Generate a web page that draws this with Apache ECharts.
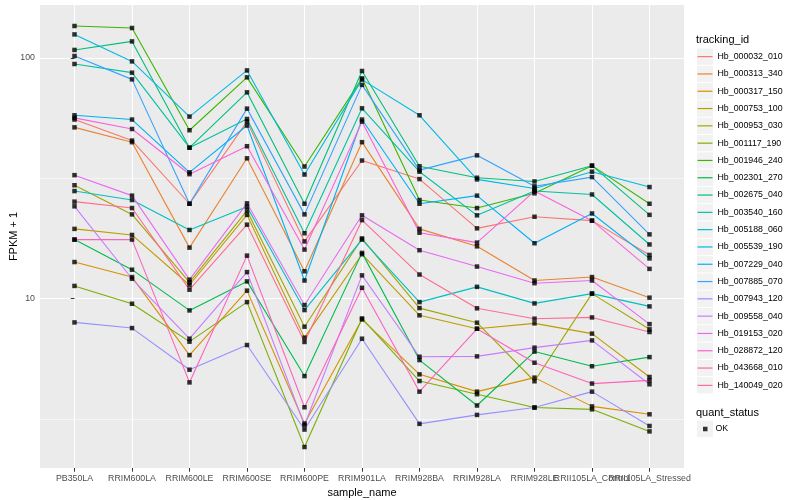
<!DOCTYPE html>
<html>
<head>
<meta charset="utf-8">
<script src="https://cdn.jsdelivr.net/npm/echarts@6/dist/echarts.min.js"></script>
<style>html,body{margin:0;padding:0;background:#fff}#c{width:800px;height:500px}</style>
</head>
<body>
<div id="c"></div>
<script>
// ---- data ----
const categories = ['PB350LA','RRIM600LA','RRIM600LE','RRIM600SE','RRIM600PE','RRIM901LA','RRIM928BA','RRIM928LA','RRIM928LE','RRII105LA_Control','RRII105LA_Stressed'];
const trackingIds = ['Hb_000032_010','Hb_000313_340','Hb_000317_150','Hb_000753_100','Hb_000953_030','Hb_001117_190','Hb_001946_240','Hb_002301_270','Hb_002675_040','Hb_003540_160','Hb_005188_060','Hb_005539_190','Hb_007229_040','Hb_007885_070','Hb_007943_120','Hb_009558_040','Hb_019153_020','Hb_028872_120','Hb_043668_010','Hb_140049_020'];
const hb_000032_010 = [55.5, 45.4, 24.8, 54.4, 17.3, 37.5, 31.4, 19.6, 21.9, 21.1, 15.2];
const hb_000313_340 = [51.5, 44.7, 16.3, 38.3, 13.0, 44.7, 19.5, 16.5, 11.9, 12.3, 10.1];
const hb_000317_150 = [14.2, 12.3, 5.83, 10.8, 3.03, 8.20, 4.85, 4.11, 4.70, 3.57, 3.31];
const hb_000753_100 = [19.5, 18.4, 11.4, 22.3, 6.89, 15.3, 8.53, 7.50, 7.90, 7.16, 4.73];
const hb_000953_030 = [29.6, 22.4, 11.7, 23.2, 7.65, 17.8, 9.14, 7.95, 4.54, 10.5, 7.46];
const hb_001117_190 = [11.3, 9.53, 6.63, 9.68, 2.42, 8.28, 4.55, 4.01, 3.53, 3.47, 2.81];
const hb_001946_240 = [135.8, 133.2, 50.1, 83.1, 35.4, 82.3, 25.7, 23.8, 27.4, 35.7, 24.8];
const hb_002301_270 = [17.6, 13.2, 8.94, 11.8, 4.77, 15.5, 5.56, 3.60, 6.03, 5.24, 5.72];
const hb_002675_040 = [108.0, 117.2, 42.4, 72.0, 24.8, 88.3, 35.5, 31.8, 30.7, 35.7, 22.3];
const hb_003540_160 = [94.4, 86.9, 42.4, 55.8, 18.7, 61.8, 33.7, 22.2, 28.0, 27.1, 16.8];
const hb_005188_060 = [28.0, 25.7, 19.3, 24.1, 8.97, 17.6, 9.68, 11.2, 9.56, 10.5, 9.29];
const hb_005539_190 = [125.3, 96.8, 57.1, 88.8, 32.8, 81.3, 57.8, 31.3, 28.7, 33.7, 29.1];
const hb_007229_040 = [57.8, 55.5, 33.5, 52.4, 11.9, 55.5, 24.8, 26.8, 17.0, 22.6, 14.7];
const hb_007885_070 = [101.9, 81.5, 24.8, 61.6, 22.4, 77.3, 34.2, 39.4, 29.3, 32.0, 18.5];
const hb_007943_120 = [7.97, 7.55, 5.07, 6.42, 2.86, 6.82, 3.02, 3.29, 3.53, 4.11, 2.96];
const hb_009558_040 = [24.2, 12.1, 6.82, 12.9, 2.98, 12.5, 5.74, 5.76, 6.26, 6.71, 4.41];
const hb_019153_020 = [32.6, 26.8, 12.0, 24.9, 9.41, 22.2, 15.9, 13.6, 11.6, 11.9, 7.84];
const hb_028872_120 = [56.4, 50.7, 32.9, 43.0, 16.0, 54.4, 18.8, 17.1, 28.0, 21.1, 13.3];
const hb_043668_010 = [17.6, 17.6, 4.49, 15.1, 3.54, 11.1, 4.11, 7.50, 5.42, 4.44, 4.58];
const hb_140049_020 = [25.3, 23.8, 10.9, 20.3, 6.61, 21.2, 12.6, 9.12, 8.26, 8.36, 7.27];
const seriesValues = [hb_000032_010, hb_000313_340, hb_000317_150, hb_000753_100, hb_000953_030, hb_001117_190, hb_001946_240, hb_002301_270, hb_002675_040, hb_003540_160, hb_005188_060, hb_005539_190, hb_007229_040, hb_007885_070, hb_007943_120, hb_009558_040, hb_019153_020, hb_028872_120, hb_043668_010, hb_140049_020];
const yTickValues = [10, 100];
const yMinorValues = [3.1623, 31.623];
const quantStatus = ['OK'];

// ---- style ----
const palette = ['#F8766D','#EA8331','#D89000','#C09B00','#A3A500','#7CAE00','#39B600','#00BB4E','#00BF7D','#00C1A3','#00BFC4','#00BAE0','#00B0F6','#35A2FF','#9590FF','#C77CFF','#E76BF3','#FA62DB','#FF62BC','#FF6C91'];
const FONT = '"Liberation Sans", Arial, Helvetica, sans-serif';
const catIdx = categories.map((c, i) => i);
const evenIdx = catIdx.filter(i => i % 2 === 0);
const oddIdx = catIdx.filter(i => i % 2 === 1);

const chart = echarts.init(document.getElementById('c'), null, {renderer: 'canvas'});

const lineSeries = trackingIds.map((name, i) => ({
  name: name,
  type: 'line',
  data: seriesValues[i].map((v, j) => [j, v]),
  showSymbol: false,
  symbol: 'none',
  lineStyle: {width: 1.1, color: palette[i]},
  itemStyle: {color: palette[i]},
  z: 3,
  emphasis: {disabled: true}
}));

const okPoints = [];
seriesValues.forEach(arr => arr.forEach((v, j) => okPoints.push([j, v])));

const LEG_TOP = 48;
const LEG_STEP = 17.3;
const keyBoxes = trackingIds.map((n, i) => ({
  type: 'rect',
  shape: {x: 697, y: LEG_TOP + LEG_STEP * i + 0.5, width: 16, height: 16.3},
  style: {fill: '#F2F2F2'},
  silent: true
}));

const xLabelStyle = {color: '#4D4D4D', fontSize: 8.8, fontFamily: FONT, margin: 6, showMinLabel: true, showMaxLabel: true, hideOverlap: false, formatter: v => categories[Math.round(v)]};

const option = {
  animation: false,
  backgroundColor: '#ffffff',
  textStyle: {fontFamily: FONT},
  grid: {left: 40, right: 116, top: 5, bottom: 32, show: true, backgroundColor: '#EBEBEB', borderWidth: 0, containLabel: false, outerBoundsMode: 'none'},
  xAxis: [{
    type: 'value', min: -0.6, max: 10.6, position: 'bottom',
    axisLine: {show: false},
    axisTick: {show: true, length: 3.7, lineStyle: {color: '#333333', width: 1}, customValues: catIdx},
    axisLabel: Object.assign({customValues: evenIdx}, xLabelStyle),
    splitLine: {show: true, lineStyle: {color: '#ffffff', width: 1.1}},
    name: 'sample_name', nameLocation: 'middle', nameGap: 14,
    nameTextStyle: {color: '#000', fontSize: 11, fontFamily: FONT}
  }, {
    type: 'value', min: -0.6, max: 10.6, position: 'bottom', offset: 0,
    axisLine: {show: false},
    axisTick: {show: false, customValues: oddIdx},
    axisLabel: Object.assign({customValues: oddIdx}, xLabelStyle),
    splitLine: {show: false}
  }],
  yAxis: [{
    type: 'log', logBase: 10, min: 1.98, max: 166, position: 'left',
    axisLine: {show: false},
    axisTick: {show: true, length: 3.7, lineStyle: {color: '#333333', width: 1}, customValues: yTickValues},
    axisLabel: {customValues: yTickValues, color: '#4D4D4D', fontSize: 8.8, fontFamily: FONT, margin: 5},
    splitLine: {show: true, lineStyle: {color: '#ffffff', width: 1.1}},
    name: 'FPKM + 1', nameLocation: 'middle', nameGap: 21, nameRotate: 90, nameMoveOverlap: false,
    nameTextStyle: {color: '#000', fontSize: 11, fontFamily: FONT}
  }, {
    type: 'log', logBase: 10, min: 1.98, max: 166, position: 'right',
    axisLine: {show: false},
    axisTick: {show: false, customValues: yMinorValues},
    axisLabel: {show: false, customValues: yMinorValues},
    splitLine: {show: true, lineStyle: {color: '#ffffff', width: 0.55}}
  }],
  legend: [{
    orient: 'vertical', left: 697.5, top: LEG_TOP, padding: 0,
    itemWidth: 15, itemHeight: 1.2, itemGap: 0, icon: 'rect',
    data: trackingIds, selectedMode: false,
    textStyle: {fontSize: 8.8, color: '#000', fontFamily: FONT, lineHeight: LEG_STEP}
  }, {
    orient: 'vertical', left: 703, top: 429 - LEG_STEP / 2, padding: 0,
    itemWidth: 4.5, itemHeight: 4.5, itemGap: 0, icon: 'rect',
    data: quantStatus, selectedMode: false,
    textStyle: {fontSize: 8.8, color: '#000', fontFamily: FONT, lineHeight: LEG_STEP, padding: [0, 0, 0, 3]}
  }],
  graphic: keyBoxes.concat([
    {type: 'rect', shape: {x: 697, y: 429 - LEG_STEP / 2 + 0.5, width: 16, height: 16.3}, style: {fill: '#F2F2F2'}, silent: true},
    {type: 'text', x: 696, y: 40, style: {text: 'tracking_id', fill: '#000', font: '11px ' + FONT, textVerticalAlign: 'middle'}, silent: true},
    {type: 'text', x: 696, y: 412.5, style: {text: 'quant_status', fill: '#000', font: '11px ' + FONT, textVerticalAlign: 'middle'}, silent: true}
  ]),
  series: lineSeries.concat([{
    name: quantStatus[0],
    type: 'scatter',
    data: okPoints,
    symbol: 'rect',
    symbolSize: 4.5,
    itemStyle: {color: '#000000'},
    z: 4,
    emphasis: {disabled: true}
  }])
};
chart.setOption(option);
</script>
</body>
</html>
